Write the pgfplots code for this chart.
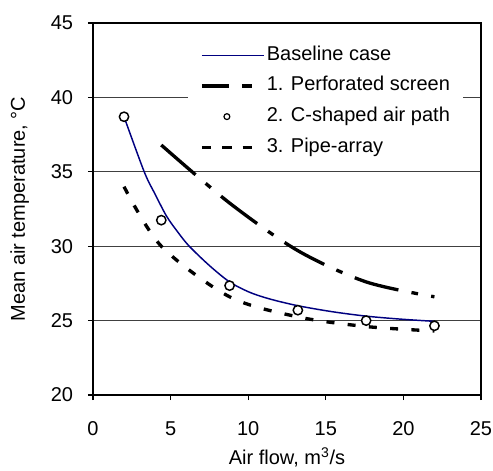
\documentclass[border=0pt]{standalone}
\usepackage{pgfplots}
\pgfplotsset{compat=1.18}
\usepackage{fontspec}
\setmainfont{Liberation Sans}
\definecolor{navyb}{RGB}{0,0,128}
\begin{document}
\fontsize{15}{18}\selectfont
\begin{tikzpicture}[font=\fontsize{15}{18}\selectfont]
\begin{axis}[
  at={(0,0)}, anchor=south west,
  scale only axis, width=291pt, height=279pt,
  xmin=0, xmax=25, ymin=20, ymax=45,
  xtick={0,5,10,15,20,25}, ytick={20,25,30,35,40,45},
  /pgf/number format/assume math mode=true,
  tick pos=left, tick align=outside, major tick length=3.75pt,
  tick style={black, line width=1pt},
  axis line style={black, line width=1.4pt},
  ymajorgrids, grid style={black!75, line width=0.6pt},
  xticklabel style={anchor=base, inner sep=0pt, yshift=-26.4pt},
  yticklabel style={anchor=east, inner sep=0pt, xshift=-11pt},
  every axis y label/.style={at={(axis description cs:-0.189,0.5)}, rotate=90, anchor=center},
  every axis x label/.style={at={(axis description cs:0.5,-0.167)}, anchor=center},
  ylabel={Mean air temperature, °C},
  xlabel={Air flow, m\textsuperscript{3}/s},
  legend style={draw=none, fill=white, at={(0.2448,0.9596)}, anchor=north west,
    inner xsep=9pt, inner ysep=5.5pt, row sep=8.5pt, column sep=0pt,
    nodes={inner xsep=0.5pt, inner ysep=0pt, text height=11pt, text depth=3.5pt}},
  legend cell align=left,
]
% Baseline case
\addplot[navyb, line width=1.1pt, smooth, forget plot] coordinates {
  (2,38.7) (3.3,35.0) (4.0,33.5) (4.75,32.0) (5.5,30.9) (6.2,30.0) (7.5,28.7) (8.8,27.6)
  (10.1,26.9) (11.4,26.45) (13.2,26.0) (15.4,25.6) (17.6,25.3) (19.8,25.1) (22,24.95)};
% 1. Perforated screen
\addplot[black, line width=2.5pt, smooth, dash pattern=on 34pt off 10pt on 5pt off 10pt, forget plot] coordinates {
  (4.4,36.8) (8.8,32.9) (13.2,29.7) (17.6,27.6) (22,26.6)};
% 2. C-shaped air path
\addplot[only marks, mark=*, mark size=3.5pt, mark options={fill=white, draw=black, line width=1.1pt}, forget plot] coordinates {
  (2,38.7) (4.4,31.75) (8.8,27.35) (13.2,25.7) (17.6,25.0) (22,24.65)};
% 3. Pipe-array
\addplot[black, line width=2.5pt, smooth, dash pattern=on 6pt off 10pt, forget plot] coordinates {
  (2,34.0) (4.4,30.0) (8.8,26.6) (13.2,25.25) (17.6,24.6) (22,24.3)};
% legend
\addlegendimage{legend image code/.code={\path (0pt,0pt) (48pt,0pt); \draw[navyb, line width=1.1pt] (0pt,0pt) -- (46.5pt,0pt);}}
\addlegendentry{Baseline case}
\addlegendimage{legend image code/.code={\path (0pt,0pt) (48pt,0pt); \draw[black, line width=2.5pt, dash pattern=on 20pt off 10pt on 7.5pt off 10pt] (0pt,0pt) -- (37.5pt,0pt);}}
\addlegendentry{1. Perforated screen}
\addlegendimage{legend image code/.code={\path (0pt,0pt) (48pt,0pt); \draw[black, line width=0.9pt, fill=white] (18.75pt,0pt) circle (2.2pt);}}
\addlegendentry{2. C-shaped air path}
\addlegendimage{legend image code/.code={\path (0pt,0pt) (48pt,0pt); \draw[black, line width=2.5pt, dash pattern=on 7pt off 8.25pt] (0pt,0pt) -- (37.5pt,0pt);}}
\addlegendentry{3. Pipe-array}
\end{axis}
\pgfresetboundingbox
\path (-69.75pt,-57pt) rectangle (300pt,296.25pt);
\end{tikzpicture}
\end{document}
